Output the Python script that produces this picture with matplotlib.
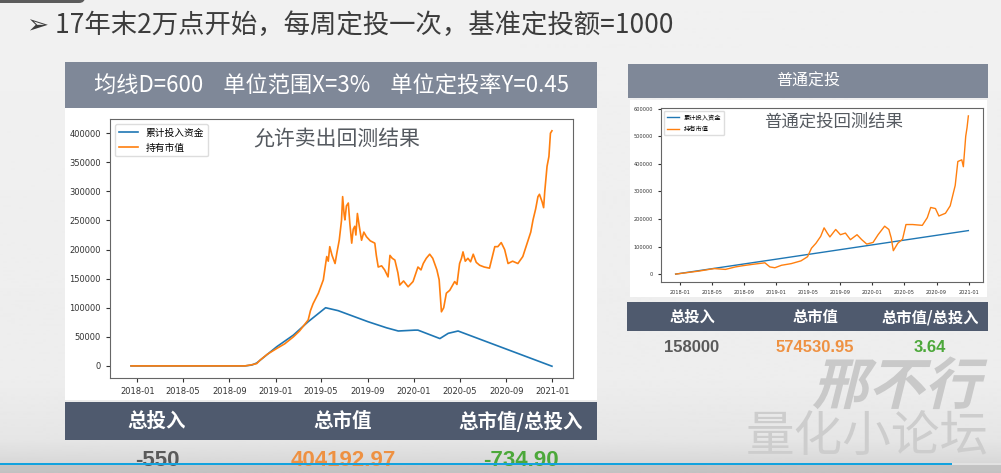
import numpy as np
import pandas as pd
import matplotlib
matplotlib.use("Agg")
import matplotlib.pyplot as plt
import matplotlib.dates as mdates
from matplotlib.patches import Rectangle, FancyBboxPatch, PathPatch
from matplotlib.textpath import TextPath
from matplotlib.font_manager import FontProperties
from matplotlib.transforms import Affine2D

# ---- data ----
title = "➢ 17年末2万点开始，每周定投一次，基准定投额=1000"
param_text = "均线D=600    单位范围X=3%    单位定投率Y=0.45"
col_names = ["总投入", "总市值", "总市值/总投入"]
series_names = ["累计投入资金", "持有市值"]

# strategy with selling allowed
sell_inv_dates = ["2017-12-15", "2018-10-12", "2018-10-30", "2018-11-12", "2019-01-04",
                  "2019-02-17", "2019-03-28", "2019-05-13", "2019-06-15", "2019-09-02",
                  "2019-10-21", "2019-11-21", "2020-01-04", "2020-01-12", "2020-03-10",
                  "2020-04-01", "2020-04-27", "2020-12-31"]
sell_inv = [0, 0, 1500, 5000, 33000, 53000, 76000, 100000, 95000, 76000,
            65500, 60000, 61500, 61500, 47000, 56000, 60000, -550]

sell_mv_dates = ["2017-12-15", "2018-10-12", "2018-10-30", "2018-11-12", "2018-11-21",
                 "2018-12-10", "2019-01-04", "2019-01-25", "2019-02-17", "2019-03-05",
                 "2019-03-28", "2019-04-03", "2019-04-10", "2019-04-24", "2019-05-07",
                 "2019-05-13", "2019-05-16", "2019-05-20", "2019-05-24", "2019-05-30",
                 "2019-06-07", "2019-06-12", "2019-06-18", "2019-06-24", "2019-06-27",
                 "2019-07-01", "2019-07-03", "2019-07-07", "2019-07-12", "2019-07-16",
                 "2019-07-21", "2019-07-25", "2019-07-29", "2019-08-01", "2019-08-05",
                 "2019-08-10", "2019-08-16", "2019-08-22", "2019-08-29", "2019-09-08",
                 "2019-09-20", "2019-09-24", "2019-09-29", "2019-10-08", "2019-10-16",
                 "2019-10-25", "2019-10-30", "2019-11-05", "2019-11-12", "2019-11-20",
                 "2019-11-25", "2019-12-05", "2019-12-17", "2019-12-30", "2020-01-12",
                 "2020-01-20", "2020-01-26", "2020-02-03", "2020-02-12", "2020-02-20",
                 "2020-02-25", "2020-03-02", "2020-03-08", "2020-03-14", "2020-03-20",
                 "2020-03-27", "2020-04-05", "2020-04-18", "2020-04-24", "2020-05-01",
                 "2020-05-06", "2020-05-10", "2020-05-16", "2020-05-23", "2020-05-30",
                 "2020-06-06", "2020-06-14", "2020-06-23", "2020-07-05", "2020-07-19",
                 "2020-08-02", "2020-08-10", "2020-08-19", "2020-08-28", "2020-09-06",
                 "2020-09-18", "2020-10-02", "2020-10-15", "2020-10-29", "2020-11-05",
                 "2020-11-11", "2020-11-18", "2020-11-24", "2020-11-28", "2020-12-05",
                 "2020-12-09", "2020-12-12", "2020-12-18", "2020-12-23", "2020-12-27",
                 "2020-12-31"]
sell_mv = [0, 0, 2000, 4000, 10000, 20000, 30000, 38000, 50000, 60000,
           79000, 95000, 107000, 125000, 148000, 175000, 188000, 180000, 205000, 190000,
           176000, 195000, 216000, 250000, 291000, 260000, 251000, 275000, 280000, 245000,
           211000, 235000, 240000, 225000, 262000, 240000, 216000, 230000, 222000, 215000,
           211000, 190000, 170000, 172000, 165000, 153000, 190000, 185000, 182000, 160000,
           139000, 146000, 136000, 145000, 170000, 165000, 176000, 185000, 192000, 185000,
           176000, 165000, 148000, 93000, 100000, 125000, 130000, 145000, 140000, 176000,
           185000, 196000, 180000, 185000, 179000, 192000, 178000, 173000, 170000, 168000,
           205000, 205000, 212000, 200000, 176000, 180000, 176000, 188000, 216000, 230000,
           251000, 270000, 291000, 295000, 282000, 272000, 300000, 343000, 360000, 400000,
           404192.97]

# plain weekly investing
plain_inv_dates = ["2017-12-15", "2018-12-31", "2019-12-31", "2020-12-31"]
plain_inv = [0, 54000, 106000, 158000]

plain_mv_dates = ["2017-12-15", "2018-03-14", "2018-05-10", "2018-06-22", "2018-07-30",
                  "2018-08-24", "2018-09-30", "2018-11-19", "2018-12-08", "2018-12-27",
                  "2019-01-21", "2019-02-27", "2019-04-05", "2019-04-30", "2019-05-15",
                  "2019-06-01", "2019-06-19", "2019-07-02", "2019-07-14", "2019-07-24",
                  "2019-08-15", "2019-09-02", "2019-09-21", "2019-10-10", "2019-11-04",
                  "2019-11-22", "2019-12-11", "2020-01-04", "2020-01-23", "2020-02-17",
                  "2020-03-04", "2020-03-13", "2020-03-21", "2020-04-07", "2020-04-25",
                  "2020-05-08", "2020-06-02", "2020-07-09", "2020-07-28", "2020-08-10",
                  "2020-08-28", "2020-09-10", "2020-10-05", "2020-10-23", "2020-11-11",
                  "2020-11-21", "2020-12-06", "2020-12-12", "2020-12-21", "2020-12-26",
                  "2020-12-31"]
plain_mv = [0, 11000, 20000, 17000, 26000, 30000, 35000, 41000, 26000, 23000,
            32000, 38000, 48000, 63000, 94000, 112000, 137000, 168000, 149000, 135000,
            162000, 143000, 149000, 125000, 143000, 125000, 109000, 115000, 143000, 174000,
            162000, 131000, 85000, 112000, 127000, 180000, 180000, 177000, 205000, 242000,
            238000, 211000, 221000, 248000, 322000, 409000, 415000, 390000, 501000, 532000,
            574530.95]

W, H = 1001, 473
CJK = ["Noto Sans CJK SC", "DejaVu Sans"]
NUM = ["Liberation Sans", "DejaVu Sans"]
plt.rcParams["font.family"] = CJK

fig = plt.figure(figsize=(W / 100, H / 100), dpi=100)


def box(x0, y0, x1, y1):
    # pixel box (top-left origin) -> figure fraction rect
    return [x0 / W, 1 - y1 / H, (x1 - x0) / W, (y1 - y0) / H]


# background layer in pixel coordinates
bg = fig.add_axes([0, 0, 1, 1], zorder=0)
bg.set_xlim(0, W)
bg.set_ylim(H, 0)
bg.axis("off")

shade = np.interp(np.arange(H), [0, 380, 440, 462, 465, 473],
                  [0.945, 0.93, 0.90, 0.85, 0.77, 0.76])
bg.imshow(shade[:, None], cmap="gray", vmin=0, vmax=1, aspect="auto",
          extent=[0, W, H, 0], zorder=0)

bg.add_patch(FancyBboxPatch((-10, -12), 95, 15, boxstyle="round,pad=0,rounding_size=6",
                            fc="#5c5c5c", ec="none", zorder=1))
bg.text(27, 25, title, fontsize=19, color="#3c3c3c", va="center", ha="left",
        family=CJK, zorder=2)

HEAD = "#7f8898"
DARK = "#4f5a6e"
GREY_NUM = "#5a5a5a"
ORANGE_NUM = "#ee9142"
GREEN_NUM = "#4ca83a"

# left panel frames
bg.add_patch(Rectangle((65, 62), 532, 46, fc=HEAD, ec="none", zorder=1))
bg.text(331, 86, param_text, fontsize=16, color="white", ha="center", va="center", zorder=2)
bg.add_patch(Rectangle((65, 108), 532, 292, fc="white", ec="none", zorder=1))
bg.add_patch(Rectangle((65, 402), 532, 38, fc=DARK, ec="none", zorder=1))

# right panel frames
bg.add_patch(Rectangle((628, 64), 360, 34, fc=HEAD, ec="none", zorder=1))
bg.text(808, 81, "普通定投", fontsize=11.5, color="white", ha="center", va="center", zorder=2)
bg.add_patch(Rectangle((630, 100), 357, 197, fc="white", ec="none", zorder=1))
bg.add_patch(Rectangle((627, 302), 361, 29, fc=DARK, ec="none", zorder=1))


def summary(xs, y_head, y_base, head_size, val_size, inv, mv):
    vals = [f"{inv:g}", f"{mv:.2f}", f"{mv / inv:.2f}"]
    colors = [GREY_NUM, ORANGE_NUM, GREEN_NUM]
    for x, name, v, c in zip(xs, col_names, vals, colors):
        bg.text(x, y_head, name, fontsize=head_size, color="white", weight="bold",
                ha="center", va="center", zorder=2)
        bg.text(x, y_base, v, fontsize=val_size, color=c, weight="bold", family=NUM,
                ha="center", va="baseline", zorder=2)


summary([157, 343, 521], 421, 466, 14, 16, sell_inv[-1], sell_mv[-1])
summary([692, 815, 930], 317, 352, 11, 12, plain_inv[-1], plain_mv[-1])

# watermark
wm = TextPath((0, 0), "邢不行", size=56,
              prop=FontProperties(family="Noto Sans CJK SC", weight="bold"))
wm_t = Affine2D().skew_deg(14, 0).scale(1, -1).translate(812, 404)
bg.add_patch(PathPatch(wm_t.transform_path(wm), fc="#c9c9c9", ec="none", zorder=2))
bg.text(867, 437, "量化小论坛", fontsize=35, color="#cdcdcd", ha="center", va="center",
        zorder=2)

# playback bar
bg.add_patch(Rectangle((0, 462.5), 952, 2, fc="#12a2de", ec="none", zorder=3))
bg.add_patch(Rectangle((952, 462.5), 49, 2, fc="#e2e2e2", ec="none", zorder=3))


def draw_chart(rect, inv_d, inv_v, mv_d, mv_v, label, tick_size, leg_size, title_size,
               title_xy, lw):
    ax = fig.add_axes(rect, zorder=2)
    ax.plot(pd.to_datetime(inv_d), inv_v, color="#1f77b4", lw=lw, label=series_names[0])
    ax.plot(pd.to_datetime(mv_d), mv_v, color="#ff7f0e", lw=lw, label=series_names[1])
    ax.xaxis.set_major_locator(mdates.MonthLocator(bymonth=[1, 5, 9]))
    ax.xaxis.set_major_formatter(mdates.DateFormatter("%Y-%m"))
    ax.tick_params(labelsize=tick_size, colors="#333333", length=3, width=0.8)
    for lab in ax.get_xticklabels() + ax.get_yticklabels():
        lab.set_family("DejaVu Sans")
    for s in ax.spines.values():
        s.set_color("#666666")
    ax.legend(loc="upper left", fontsize=leg_size, framealpha=1, edgecolor="#dddddd",
              fancybox=True)
    ax.text(*title_xy, label, transform=ax.transAxes, fontsize=title_size, color="#555a60",
            ha="center", va="center")
    return ax


draw_chart(box(110, 119, 573, 378), sell_inv_dates, sell_inv, sell_mv_dates, sell_mv,
           "允许卖出回测结果", 6, 7, 15, (0.49, 0.92), 1.2)
axR = draw_chart(box(661, 108, 983, 282), plain_inv_dates, plain_inv, plain_mv_dates,
                 plain_mv, "普通定投回测结果", 3.6, 4.5, 12.5, (0.535, 0.92), 1.0)
axR.tick_params(length=2)

fig.savefig("out.png", dpi=100)
